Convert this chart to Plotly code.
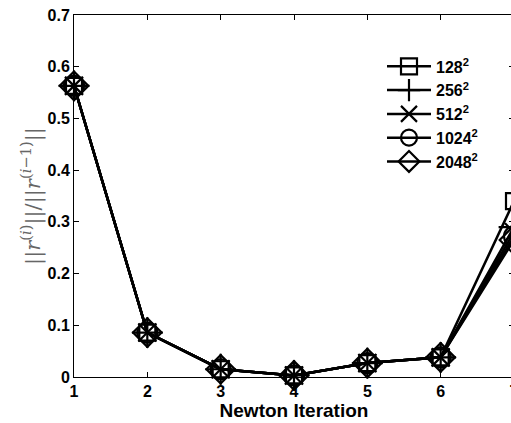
import plotly.graph_objects as go

iterations = [1, 2, 3, 4, 5, 6, 7]
labels = ["128<sup>2</sup>", "256<sup>2</sup>", "512<sup>2</sup>", "1024<sup>2</sup>", "2048<sup>2</sup>"]
r128 = [0.563, 0.086, 0.015, 0.003, 0.027, 0.038, 0.340]
r256 = [0.563, 0.086, 0.015, 0.003, 0.027, 0.038, 0.290]
r512 = [0.563, 0.086, 0.015, 0.003, 0.027, 0.038, 0.280]
r1024 = [0.563, 0.086, 0.015, 0.003, 0.027, 0.038, 0.272]
r2048 = [0.563, 0.086, 0.015, 0.003, 0.027, 0.038, 0.265]
series = [r128, r256, r512, r1024, r2048]
symbols = ["square-open", "cross-thin-open", "x-thin-open", "circle-open", "diamond-open"]
sizes = [16, 22, 18, 20, 22]

fig = go.Figure()
for lab, vals, sym, sz in zip(labels, series, symbols, sizes):
    fig.add_trace(go.Scatter(
        x=iterations, y=vals, name=lab, mode="lines+markers",
        line=dict(color="black", width=2.5),
        marker=dict(symbol=sym, size=sz, color="black", line=dict(color="black", width=2.2)),
        cliponaxis=False,
    ))

fig.update_layout(
    width=530, height=423,
    margin=dict(l=74, r=16, t=15, b=46),
    paper_bgcolor="white", plot_bgcolor="white",
    showlegend=True,
    legend=dict(x=0.70, y=0.905, xanchor="left", yanchor="top",
                font=dict(family="Liberation Sans, Arial, sans-serif", size=16, color="black", weight="bold"),
                bgcolor="rgba(0,0,0,0)", tracegroupgap=0, itemsizing="trace", itemwidth=44),
)
fig.update_xaxes(
    range=[1, 7], tickvals=iterations, ticktext=[str(i) for i in iterations],
    showline=True, linecolor="black", linewidth=1, mirror="ticks",
    ticks="inside", ticklen=5, tickcolor="black", showgrid=False, zeroline=False,
    automargin=False,
    tickfont=dict(family="Liberation Sans, Arial, sans-serif", size=16, color="black", weight="bold"),
    title=dict(text="Newton Iteration", standoff=0,
               font=dict(family="Liberation Sans, Arial, sans-serif", size=19, color="black", weight="bold")),
)
fig.update_yaxes(
    range=[0, 0.7], tickvals=[0, 0.1, 0.2, 0.3, 0.4, 0.5, 0.6, 0.7],
    ticktext=["0", "0.1", "0.2", "0.3", "0.4", "0.5", "0.6", "0.7"],
    showline=True, linecolor="black", linewidth=1, mirror="ticks",
    ticks="inside", ticklen=5, tickcolor="black", showgrid=False, zeroline=False,
    automargin=False,
    tickfont=dict(family="Liberation Sans, Arial, sans-serif", size=16, color="black", weight="bold"),
    title=dict(text="||<i>r</i><sup>(<i>i</i>)</sup>||/||<i>r</i><sup>(<i>i</i>−1)</sup>||", standoff=1,
               font=dict(family="DejaVu Serif, serif", size=21, color="#666666")),
)
fig.write_html("out.html")
